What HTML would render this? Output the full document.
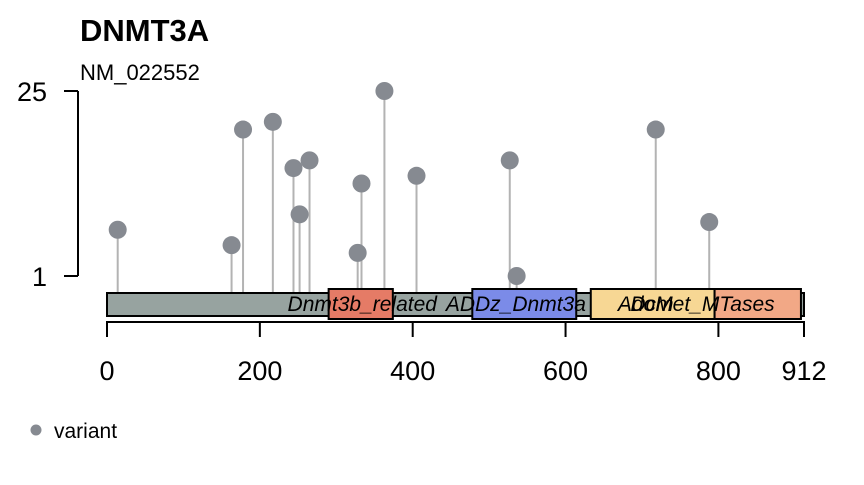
<!DOCTYPE html>
<html><head><meta charset="utf-8"><style>
body{margin:0;background:#fff;width:864px;height:480px;overflow:hidden;font-family:"Liberation Sans",Arial,sans-serif}
</style></head><body>
<svg width="864" height="480" xmlns="http://www.w3.org/2000/svg" font-family="Liberation Sans, Arial, sans-serif">
<text x="80" y="41" font-size="31" font-weight="bold">DNMT3A</text>
<text x="80" y="80" font-size="22">NM_022552</text>
<g id="yaxis"></g>
<g id="stems"></g>
<g id="protein"></g>
<g id="heads"></g>
<g id="xaxis"></g>
<g>
<circle cx="36" cy="430" r="5.5" fill="#868A91"/>
<text x="54" y="438" font-size="21">variant</text>
</g>
</svg>
<script>
const positions=[14,163,178,217,244,252,265,328,333,363,405,527,536,718,788];
const counts=[7,5,20,21,15,9,16,4,13,25,14,16,1,20,8];
const domainNames=["Dnmt3b_related","ADDz_Dnmt3a","AdoMet_MTases","Dcm"];
const domainStart=[290,478,633,795];
const domainEnd=[374,614,795,908];
const domainColors=["#E57B66","#7B8BE8","#F7D794","#F2A886"];
const domainLabelPos=[334,535,771,713];
const xTicks=[0,200,400,600,800,912];
const yTicks=[1,25];
const protLen=912;
const NS="http://www.w3.org/2000/svg";
const X=v=>107+v*(697/912);
const Y=v=>276-(v-1)*(185/24);
function mk(tag,attrs,parent,txt){const e=document.createElementNS(NS,tag);for(const k in attrs)e.setAttribute(k,attrs[k]);if(txt!==undefined)e.textContent=txt;parent.appendChild(e);return e;}
const stems=document.getElementById('stems'),heads=document.getElementById('heads'),prot=document.getElementById('protein'),xa=document.getElementById('xaxis'),ya=document.getElementById('yaxis');
let l=mk('line',{x1:78,x2:78,y1:Y(yTicks[1]),y2:Y(yTicks[0]),stroke:'#000','stroke-width':2},ya);


yTicks.forEach(t=>{
 let tk=mk('line',{x1:64,x2:78,y1:Y(t),y2:Y(t),stroke:'#000','stroke-width':2},ya);
 
 
 let tx=mk('text',{x:47,y:Y(t)+10,'font-size':27,'text-anchor':'end'},ya,String(t));
 
 
});
positions.forEach((p,i)=>{
 let s=mk('line',{x1:X(p),x2:X(p),y1:Y(counts[i]),y2:293,stroke:'#B3B3B3','stroke-width':2},stems);
 
 
 let c=mk('circle',{cx:X(p),cy:Y(counts[i]),r:9,fill:'#868A91'},heads);
 
 
});
let pb=mk('rect',{x:X(0),y:293,width:X(protLen)-X(0),height:23,fill:'#97A3A0',stroke:'#000','stroke-width':2},prot);


domainNames.forEach((n,i)=>{
 let r=mk('rect',{x:X(domainStart[i]),y:289,width:X(domainEnd[i])-X(domainStart[i]),height:30,fill:domainColors[i],stroke:'#000','stroke-width':2},prot);
 
 
});
domainNames.forEach((n,i)=>{
 let t=mk('text',{x:X(domainLabelPos[i]),y:311,'font-size':21,'font-style':'italic','text-anchor':'middle'},prot,n);
 
 
});
let xl=mk('line',{x1:X(0),x2:X(protLen),y1:322,y2:322,stroke:'#000','stroke-width':2},xa);


xTicks.forEach(t=>{
 let tk=mk('line',{x1:X(t),x2:X(t),y1:321,y2:337,stroke:'#000','stroke-width':2},xa);
 
 
 let tx=mk('text',{x:X(t),y:380,'font-size':27,'text-anchor':'middle'},xa,String(t));
 
 
});
</script>
</body></html>
